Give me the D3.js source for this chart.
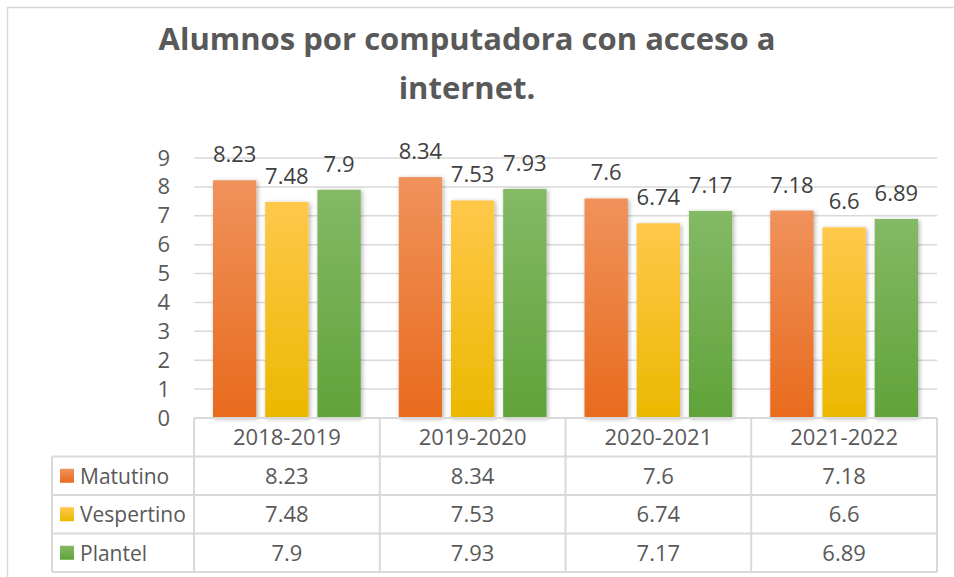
<!DOCTYPE html>
<html>
<head>
<meta charset="utf-8">
<script src="https://cdn.jsdelivr.net/npm/d3@7"></script>
<style>
  body { margin: 0; background: #fff; }
  text { font-family: "Open Sans", sans-serif; }
</style>
</head>
<body>
<svg width="954" height="577"></svg>
<script>
var categories = ["2018-2019", "2019-2020", "2020-2021", "2021-2022"];
var seriesNames = ["Matutino", "Vespertino", "Plantel"];
var matutino = [8.23, 8.34, 7.6, 7.18];
var vespertino = [7.48, 7.53, 6.74, 6.6];
var plantel = [7.9, 7.93, 7.17, 6.89];
var yTicks = [0, 1, 2, 3, 4, 5, 6, 7, 8, 9];

var values = [matutino, vespertino, plantel];
var gradColors = [["#F0925C", "#E86B1D"], ["#FFC84B", "#EBB800"], ["#84B966", "#60A339"]];

var svg = d3.select("svg");
var margin = {left: 194, right: 17, top: 158, bottom: 159};
var plotW = 954 - margin.left - margin.right,
	plotH = 577 - margin.top - margin.bottom;
var fs = 22;

var defs = svg.append("defs");
gradColors.forEach(function(c, i) {
	var g = defs.append("linearGradient")
		.attr("id", "grad" + i)
		.attr("x1", 0).attr("y1", 0).attr("x2", 0).attr("y2", 1);
	g.append("stop").attr("offset", "0%").attr("stop-color", c[0]);
	g.append("stop").attr("offset", "100%").attr("stop-color", c[1]);
});
var shadow = defs.append("filter").attr("id", "shadow")
	.attr("x", "-30%").attr("y", "-10%").attr("width", "160%").attr("height", "120%");
shadow.append("feDropShadow")
	.attr("dx", 1.5).attr("dy", 1).attr("stdDeviation", 2)
	.attr("flood-color", "#000").attr("flood-opacity", 0.3);

// outer chart border
svg.append("rect")
	.attr("x", 7.5).attr("y", 7.5).attr("width", 960).attr("height", 600)
	.attr("fill", "none").attr("stroke", "#d9d9d9").attr("stroke-width", 1.5);

// title
var title = svg.append("text")
	.attr("text-anchor", "middle")
	.attr("font-weight", "bold")
	.attr("font-size", 31)
	.attr("fill", "#595959");
title.append("tspan").attr("x", 467).attr("y", 50).text("Alumnos por computadora con acceso a");
title.append("tspan").attr("x", 467).attr("y", 99).text("internet.");

var x0 = d3.scaleBand().domain(categories).range([0, plotW]);
var x1 = d3.scaleBand().domain(seriesNames).range([19, x0.bandwidth() - 19]).paddingInner(0.17);
var y = d3.scaleLinear().domain([0, 9]).range([plotH, 0]);

var g = svg.append("g").attr("transform", "translate(" + margin.left + "," + margin.top + ")");

// gridlines
g.selectAll(".grid").data(yTicks.slice(1))
	.enter().append("line")
	.attr("x1", 0).attr("x2", plotW)
	.attr("y1", d => y(d)).attr("y2", d => y(d))
	.attr("stroke", "#d9d9d9").attr("stroke-width", 1.5);

// y axis labels
var yAxis = g.append("g").call(d3.axisLeft(y).tickValues(yTicks).tickSize(0).tickPadding(24));
yAxis.select(".domain").remove();
yAxis.selectAll("text")
	.attr("font-size", fs).attr("fill", "#595959")
	.style("font-family", "'Open Sans', sans-serif");

// bars
var groups = g.selectAll(".grp").data(categories)
	.enter().append("g")
	.attr("transform", d => "translate(" + x0(d) + ",0)");

seriesNames.forEach(function(s, si) {
	groups.append("rect")
		.attr("x", x1(s))
		.attr("y", (d, i) => y(values[si][i]))
		.attr("width", x1.bandwidth())
		.attr("height", (d, i) => plotH - y(values[si][i]))
		.attr("fill", "url(#grad" + si + ")")
		.attr("filter", "url(#shadow)");
	groups.append("text")
		.attr("x", x1(s) + x1.bandwidth() / 2)
		.attr("y", (d, i) => y(values[si][i]) - 18)
		.attr("text-anchor", "middle")
		.attr("font-size", fs)
		.attr("fill", "#404040")
		.text((d, i) => values[si][i]);
});

// data table
var rowH = 38.5;
var tableLeft = 52 - margin.left;
var tbl = g.append("g").attr("transform", "translate(0," + plotH + ")");
var lineColor = "#d9d9d9";

// horizontal lines
tbl.append("line").attr("x1", 0).attr("x2", plotW).attr("y1", 0).attr("y2", 0)
	.attr("stroke", lineColor).attr("stroke-width", 2);
[1, 2, 3, 4].forEach(function(r) {
	tbl.append("line").attr("x1", tableLeft).attr("x2", plotW)
		.attr("y1", r * rowH).attr("y2", r * rowH)
		.attr("stroke", lineColor).attr("stroke-width", 2);
});
// vertical lines
categories.concat(["end"]).forEach(function(c) {
	var xv = c === "end" ? plotW : x0(c);
	tbl.append("line").attr("x1", xv).attr("x2", xv).attr("y1", 0).attr("y2", 4 * rowH)
		.attr("stroke", lineColor).attr("stroke-width", 2);
});
tbl.append("line").attr("x1", tableLeft).attr("x2", tableLeft).attr("y1", rowH).attr("y2", 4 * rowH)
	.attr("stroke", lineColor).attr("stroke-width", 2);

// header
tbl.selectAll(".hdr").data(categories)
	.enter().append("text")
	.attr("x", d => x0(d) + x0.bandwidth() / 2)
	.attr("y", rowH / 2 + 8)
	.attr("text-anchor", "middle")
	.attr("font-size", fs).attr("fill", "#595959")
	.text(d => d);

// rows
seriesNames.forEach(function(s, si) {
	var ry = (si + 1) * rowH;
	tbl.append("rect")
		.attr("x", tableLeft + 8).attr("y", ry + rowH / 2 - 7)
		.attr("width", 14).attr("height", 14)
		.attr("fill", "url(#grad" + si + ")");
	tbl.append("text")
		.attr("x", tableLeft + 28).attr("y", ry + rowH / 2 + 8)
		.attr("font-size", 21).attr("fill", "#595959")
		.text(s);
	tbl.selectAll(".v" + si).data(categories)
		.enter().append("text")
		.attr("x", d => x0(d) + x0.bandwidth() / 2)
		.attr("y", ry + rowH / 2 + 8)
		.attr("text-anchor", "middle")
		.attr("font-size", fs).attr("fill", "#595959")
		.text((d, i) => values[si][i]);
});
</script>
</body>
</html>
